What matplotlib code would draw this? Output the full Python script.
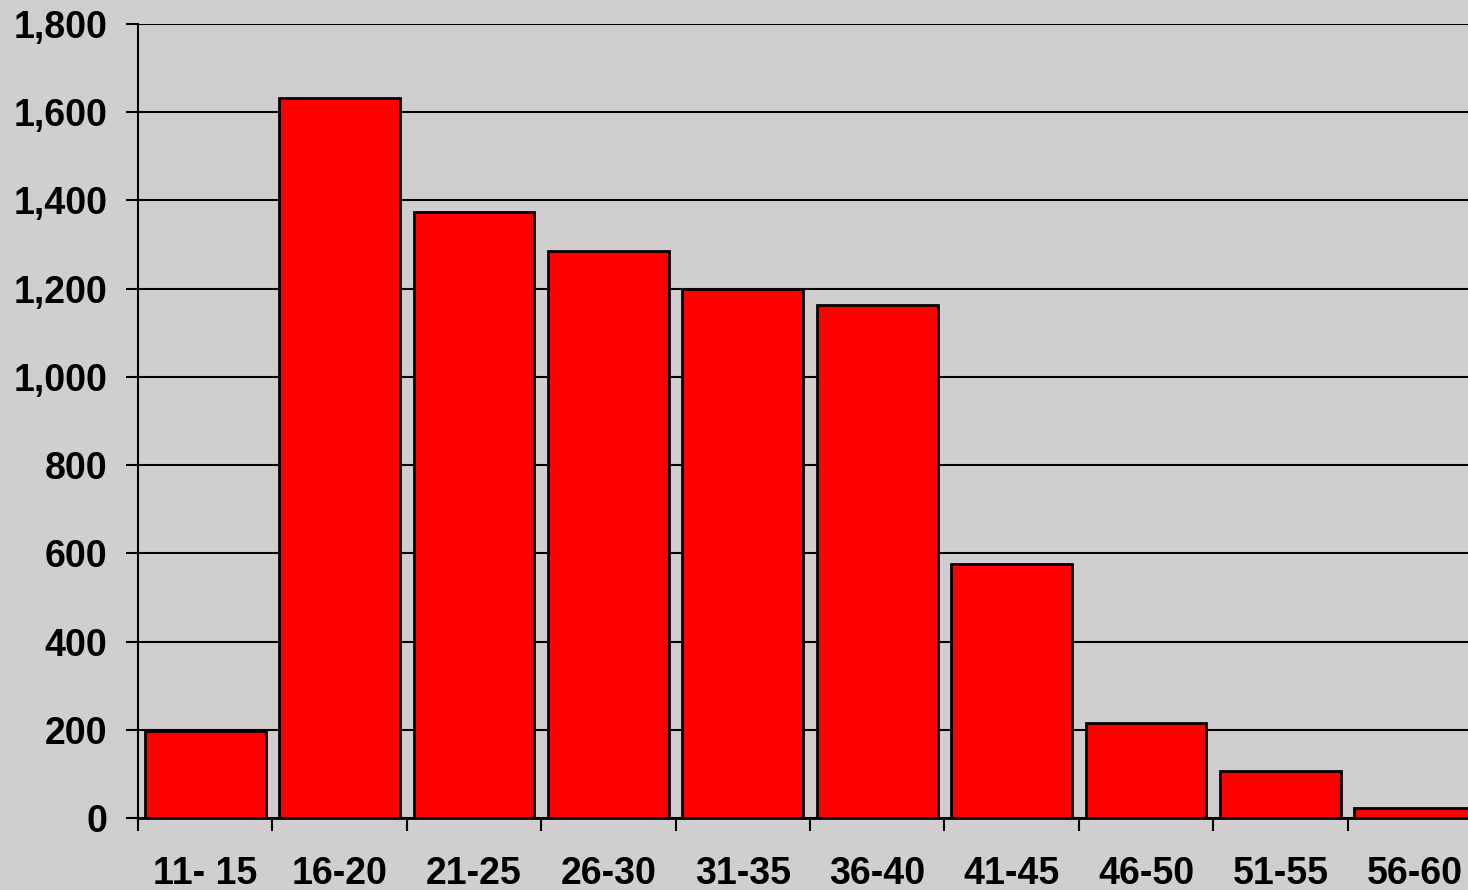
import numpy as np
import matplotlib.pyplot as plt
from matplotlib.ticker import FuncFormatter

age_groups = ['11- 15', '16-20', '21-25', '26-30', '31-35', '36-40', '41-45', '46-50', '51-55', '56-60']
counts = [198, 1632, 1374, 1285, 1199, 1163, 576, 215, 107, 23]
y_ticks = [0, 200, 400, 600, 800, 1000, 1200, 1400, 1600, 1800]

plt.rcParams['font.family'] = ['Liberation Sans', 'DejaVu Sans']

fig = plt.figure(figsize=(14.68, 8.9), dpi=100)
fig.patch.set_facecolor('#d0cecf')
# axes runs a bit past the right edge, the last bar is cut off in the original
ax = fig.add_axes([138 / 1468, 72 / 890, 1344 / 1468, 794 / 890])
ax.set_facecolor('none')

x = np.arange(len(age_groups))
ax.bar(x, counts, width=0.9, color='#ff0000', edgecolor='black', linewidth=2, zorder=3)

ax.set_xlim(-0.5, len(age_groups) - 0.5)
ax.set_ylim(0, 1800)
ax.set_yticks(y_ticks)
ax.yaxis.set_major_formatter(FuncFormatter(lambda v, p: f'{int(v):,}'))
ax.grid(axis='y', color='black', linewidth=1.5, zorder=1)

# category labels centred, tick marks on the boundaries
ax.set_xticks(x)
ax.set_xticklabels(age_groups)
ax.set_xticks(np.arange(len(age_groups) + 1) - 0.5, minor=True)
ax.tick_params(axis='x', which='major', length=0, pad=27)
ax.tick_params(axis='x', which='minor', length=9, width=1.5, direction='out')
ax.tick_params(axis='y', length=9, width=1.5, direction='out', pad=13)
for lbl in ax.get_xticklabels() + ax.get_yticklabels():
    lbl.set_fontsize(27)
    lbl.set_fontweight('bold')

for s in ['top', 'right']:
    ax.spines[s].set_visible(False)
ax.spines['left'].set_linewidth(1.5)
ax.spines['bottom'].set_linewidth(2)
ax.spines['bottom'].set_zorder(4)

fig.savefig('out.png', dpi=100, facecolor=fig.get_facecolor())
